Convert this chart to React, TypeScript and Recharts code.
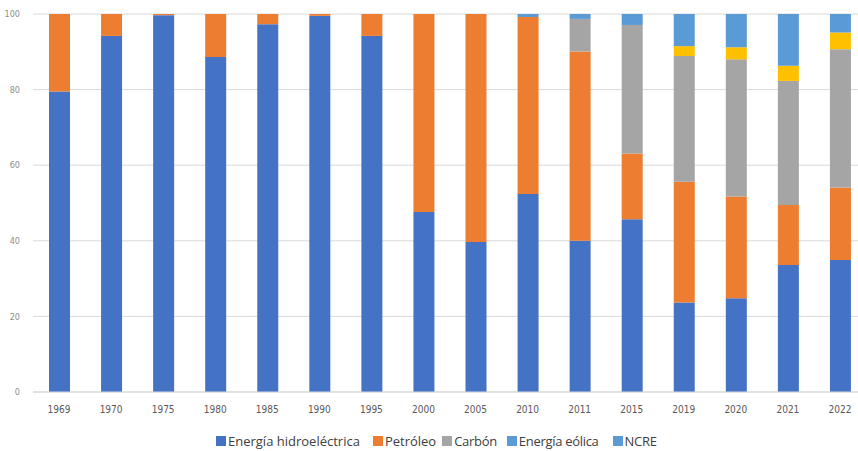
import React from "react";
import { BarChart, Bar, XAxis, YAxis, CartesianGrid, Legend } from "recharts";

const years = ["1969", "1970", "1975", "1980", "1985", "1990", "1995", "2000", "2005", "2010", "2011", "2015", "2019", "2020", "2021", "2022"];
const hidro = [79.5, 94.2, 99.7, 88.6, 97.3, 99.5, 94.2, 47.6, 39.7, 52.4, 40.0, 45.7, 23.7, 24.8, 33.6, 34.9];
const petroleo = [20.5, 5.8, 0.3, 11.4, 2.7, 0.5, 5.8, 52.4, 60.3, 46.8, 50.1, 17.4, 31.9, 26.9, 15.9, 19.2];
const carbon = [0, 0, 0, 0, 0, 0, 0, 0, 0, 0, 8.6, 34.0, 33.3, 36.3, 32.8, 36.6];
const eolica = [0, 0, 0, 0, 0, 0, 0, 0, 0, 0, 0, 0, 2.6, 3.2, 4.0, 4.4];
const ncre = [0, 0, 0, 0, 0, 0, 0, 0, 0, 0.8, 1.3, 2.9, 8.5, 8.8, 13.7, 4.9];
const yTicks = [0, 20, 40, 60, 80, 100];

const series = [
  { key: "hidro", name: "Energía hidroeléctrica", fill: "#4472C4", legend: "#4472C4" },
  { key: "petroleo", name: "Petróleo", fill: "#ED7D31", legend: "#ED7D31" },
  { key: "carbon", name: "Carbón", fill: "#A5A5A5", legend: "#A5A5A5" },
  { key: "eolica", name: "Energía eólica", fill: "#FFC000", legend: "#5B9BD5" },
  { key: "ncre", name: "NCRE", fill: "#5B9BD5", legend: "#5B9BD5" },
];

const data = years.map((y, i) => ({
  year: y,
  hidro: hidro[i],
  petroleo: petroleo[i],
  carbon: carbon[i],
  eolica: eolica[i],
  ncre: ncre[i],
}));

const legendGaps = [0, 13, 6, 10, 14];

const renderLegend = () => (
  <div style={{ display: "flex", alignItems: "center", fontFamily: "'Open Sans', sans-serif", fontSize: 13, color: "#404040", whiteSpace: "nowrap", height: 18 }}>
    {series.map((s, i) => (
      <div key={s.key} style={{ display: "flex", alignItems: "center", marginLeft: legendGaps[i] }}>
        <span style={{ display: "inline-block", width: 10, height: 10, background: s.legend, marginRight: 2 }} />
        <span style={{ letterSpacing: i >= 2 ? -0.3 : 0 }}>{s.name}</span>
      </div>
    ))}
  </div>
);

export default function App() {
  return (
    <div style={{ position: "absolute", left: 0, top: 0, width: 858, height: 451, overflow: "hidden", background: "#fff" }}>
      <BarChart width={866} height={451} data={data} margin={{ top: 14, right: 0, left: 0, bottom: 16 }}>
        <CartesianGrid vertical={false} stroke="#D9D9D9" />
        <XAxis
          dataKey="year"
          height={25}
          axisLine={{ stroke: "#D9D9D9" }}
          tickLine={false}
          tick={{ fontSize: 10, fill: "#595959", fontFamily: "'Liberation Sans Narrow', 'DejaVu Sans Condensed', sans-serif" }}
          tickMargin={8}
          interval={0}
        />
        <YAxis
          width={33}
          domain={[0, 100]}
          ticks={yTicks}
          axisLine={false}
          tickLine={false}
          tickMargin={7}
          tick={{ fontSize: 9, fill: "#8C8C8C", fontFamily: "'Liberation Sans Narrow', 'DejaVu Sans Condensed', sans-serif" }}
        />
        {series.map((s) => (
          <Bar key={s.key} dataKey={s.key} name={s.name} stackId="a" fill={s.fill} barSize={21} isAnimationActive={false} />
        ))}
        <Legend content={renderLegend} wrapperStyle={{ position: "absolute", left: 216, top: 432, width: "auto" }} />
      </BarChart>
    </div>
  );
}
